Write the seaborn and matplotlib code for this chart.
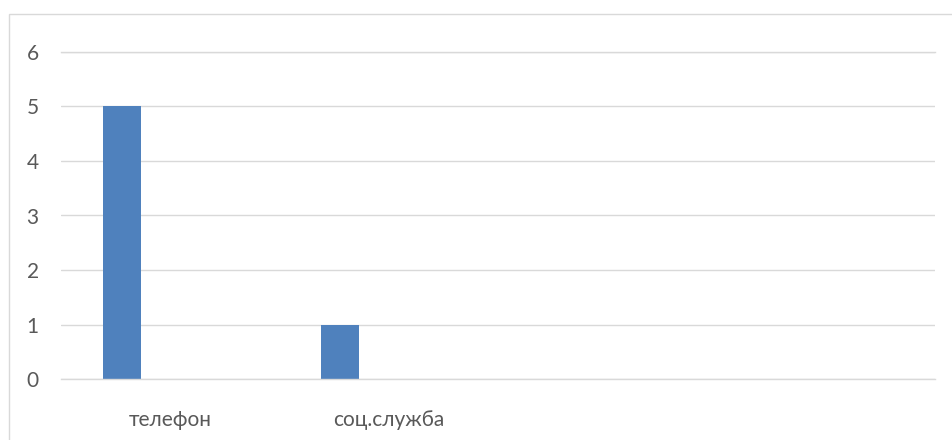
import matplotlib
matplotlib.use("Agg")
import matplotlib.pyplot as plt
import seaborn as sns
import pandas as pd
from matplotlib.patches import Rectangle

# Categories (the last two have no caption) and three series
categories = ["телефон", "соц.служба", " ", "  "]
series_names = ["Ряд 1", "Ряд 2", "Ряд 3"]
series_1 = [5, 1, 0, 0]
series_2 = [0, 0, 0, 0]
series_3 = [0, 0, 0, 0]
y_ticks = [0, 1, 2, 3, 4, 5, 6]

BAR_BLUE = "#4F81BD"
GRID_GRAY = "#D9D9D9"
TEXT_GRAY = "#595959"

rows = []
for name, values in zip(series_names, [series_1, series_2, series_3]):
    for cat, v in zip(categories, values):
        rows.append({"category": cat, "series": name, "value": v})
df = pd.DataFrame(rows)

sns.set_theme(style="white")
plt.rcParams["font.family"] = ["Lato", "DejaVu Sans"]

fig = plt.figure(figsize=(9.52, 4.40), dpi=100)
ax = fig.add_axes([61 / 952, (440 - 379) / 440, 874 / 952, (379 - 52) / 440])

sns.barplot(
    data=df, x="category", y="value", hue="series",
    order=categories, hue_order=series_names,
    palette=[BAR_BLUE] * 3, width=0.666, gap=0.22,
    errorbar=None, linewidth=0, saturation=1, legend=False, ax=ax,
)

ax.set_xlim(-0.5, len(categories) - 0.5)
ax.set_ylim(0, 6)
ax.set_yticks(y_ticks)
ax.set_yticklabels([str(t) for t in y_ticks])
ax.set_xlabel("")
ax.set_ylabel("")

ax.yaxis.grid(True, color=GRID_GRAY, linewidth=1.0)
ax.xaxis.grid(False)
ax.set_axisbelow(True)
for side in ("left", "right"):
    ax.spines[side].set_visible(False)
for side in ("top", "bottom"):
    ax.spines[side].set_color(GRID_GRAY)
    ax.spines[side].set_linewidth(1.0)

ax.tick_params(axis="y", length=0, pad=16, labelsize=15, labelcolor=TEXT_GRAY)
ax.tick_params(axis="x", length=0, pad=22, labelsize=15, labelcolor=TEXT_GRAY)

# Chart frame
fig.patches.append(Rectangle(
    (8.5 / 952, -0.1), 1.2, (440 - 14.5) / 440 + 0.1,
    transform=fig.transFigure, fill=False, edgecolor=GRID_GRAY,
    linewidth=1.0, zorder=0,
))

fig.savefig("out.png", dpi=100, facecolor="white")
